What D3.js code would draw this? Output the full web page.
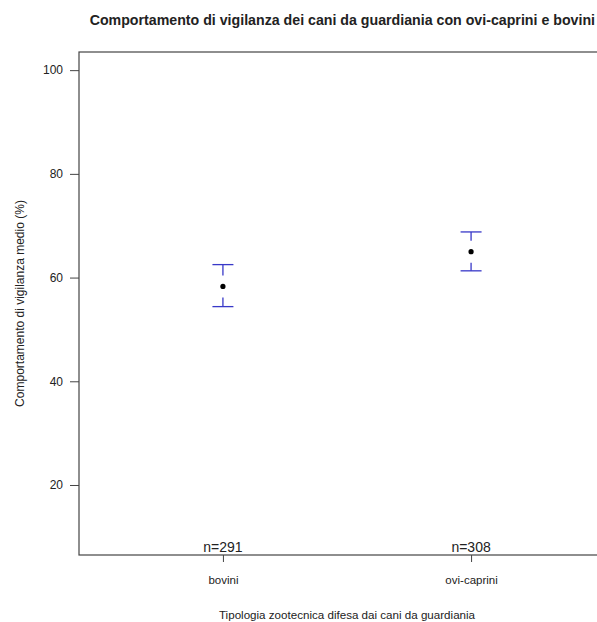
<!DOCTYPE html>
<html>
<head>
<meta charset="utf-8">
<script src="https://cdn.jsdelivr.net/npm/d3@7"></script>
<style>
    body { margin: 0; background: #fff; }
    text { font-family: "Liberation Sans", Arial, sans-serif; fill: #222; }
</style>
</head>
<body>
<div id="chart"></div>
<script>
// Values
var groups = ["bovini", "ovi-caprini"];
var means = [58.3, 65.0];
var upper = [62.5, 68.8];
var lower = [54.4, 61.3];
var counts = [291, 308];
var yTicks = [20, 40, 60, 80, 100];

var WIDTH = 597, HEIGHT = 622;
var LEFT = 79, TOP = 52, BOTTOM = 555, RIGHT = 615;
var BAR_COLOR = "#3838c8";

var svg = d3.select("#chart")
    .append("svg")
    .attr("width", WIDTH)
    .attr("height", HEIGHT);

// R style axis ranges: positions 1..n with padding
var x = d3.scaleLinear().domain([0.42, groups.length + 0.58]).range([LEFT, RIGHT]);
var y = d3.scaleLinear().domain([6.5, 103.5]).range([BOTTOM, TOP]);

// Plot box
svg.append("rect")
    .attr("x", LEFT).attr("y", TOP)
    .attr("width", RIGHT - LEFT).attr("height", BOTTOM - TOP)
    .attr("fill", "none")
    .attr("stroke", "#444")
    .attr("stroke-width", 1.2);

// Y axis
var yAxis = svg.append("g")
    .attr("transform", "translate(" + LEFT + ",0)")
    .call(d3.axisLeft(y).tickValues(yTicks).tickSize(9).tickPadding(7));
yAxis.select(".domain").remove();
yAxis.selectAll("line").attr("stroke", "#444");
yAxis.selectAll("text")
    .style("font-size", "12px")
    .style("font-family", "Liberation Sans, Arial, sans-serif")
    .attr("fill", "#222");

// X axis
var xAxis = svg.append("g")
    .attr("transform", "translate(0," + BOTTOM + ")")
    .call(d3.axisBottom(x)
        .tickValues(groups.map(function(d, i) { return i + 1; }))
        .tickFormat(function(d) { return groups[d - 1]; })
        .tickSize(7).tickPadding(14));
xAxis.select(".domain").remove();
xAxis.selectAll("line").attr("stroke", "#444");
xAxis.selectAll("text")
    .style("font-size", "11.5px")
    .style("font-family", "Liberation Sans, Arial, sans-serif")
    .attr("fill", "#222");

// Error bars
var gap = 11, cap = 10.5;
var bars = svg.append("g").selectAll("g.bar")
    .data(groups)
    .enter()
    .append("g").classed("bar", true);

bars.each(function(d, i) {
    var g = d3.select(this);
    var cx = x(i + 1);
    var segs = [
        [cx, y(upper[i]), cx, y(means[i]) - gap],
        [cx, y(means[i]) + gap, cx, y(lower[i])],
        [cx - cap, y(upper[i]), cx + cap, y(upper[i])],
        [cx - cap, y(lower[i]), cx + cap, y(lower[i])]
    ];
    segs.forEach(function(s) {
        g.append("line")
            .attr("x1", s[0]).attr("y1", s[1])
            .attr("x2", s[2]).attr("y2", s[3])
            .attr("stroke", BAR_COLOR)
            .attr("stroke-width", 1.3);
    });
    g.append("circle")
        .attr("cx", cx).attr("cy", y(means[i]))
        .attr("r", 2.6)
        .attr("fill", "#000");
});

// n= labels
svg.append("g").selectAll("text")
    .data(counts)
    .enter()
    .append("text")
    .attr("x", function(d, i) { return x(i + 1); })
    .attr("y", BOTTOM - 3)
    .attr("text-anchor", "middle")
    .style("font-size", "14px")
    .text(function(d) { return "n=" + d; });

// Titles (main title runs up to the right edge, as in the original)
svg.append("text")
    .attr("x", 595)
    .attr("y", 25)
    .attr("text-anchor", "end")
    .style("font-size", "14.2px")
    .style("font-weight", "bold")
    .attr("fill", "#000")
    .text("Comportamento di vigilanza dei cani da guardiania con ovi-caprini e bovini");

svg.append("text")
    .attr("x", (LEFT + RIGHT) / 2)
    .attr("y", 619)
    .attr("text-anchor", "middle")
    .style("font-size", "11.6px")
    .text("Tipologia zootecnica difesa dai cani da guardiania");

svg.append("text")
    .attr("transform", "translate(24," + (TOP + BOTTOM) / 2 + ") rotate(-90)")
    .attr("text-anchor", "middle")
    .style("font-size", "12px")
    .text("Comportamento di vigilanza medio (%)");
</script>
</body>
</html>
